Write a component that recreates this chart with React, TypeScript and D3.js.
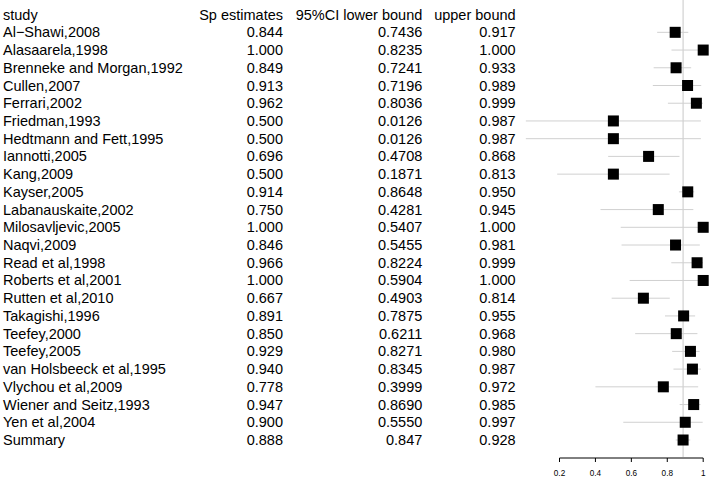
import React from "react";
import * as d3 from "d3";

const studies = [
  "Al\u2212Shawi,2008", "Alasaarela,1998", "Brenneke and Morgan,1992", "Cullen,2007", "Ferrari,2002",
  "Friedman,1993", "Hedtmann and Fett,1995", "Iannotti,2005", "Kang,2009", "Kayser,2005",
  "Labanauskaite,2002", "Milosavljevic,2005", "Naqvi,2009", "Read et al,1998", "Roberts et al,2001",
  "Rutten et al,2010", "Takagishi,1996", "Teefey,2000", "Teefey,2005", "van Holsbeeck et al,1995",
  "Vlychou et al,2009", "Wiener and Seitz,1993", "Yen et al,2004", "Summary",
];
const spEstimates = [0.844, 1.0, 0.849, 0.913, 0.962, 0.5, 0.5, 0.696, 0.5, 0.914, 0.75, 1.0, 0.846, 0.966, 1.0, 0.667, 0.891, 0.85, 0.929, 0.94, 0.778, 0.947, 0.9, 0.888];
const lowerBounds = [0.7436, 0.8235, 0.7241, 0.7196, 0.8036, 0.0126, 0.0126, 0.4708, 0.1871, 0.8648, 0.4281, 0.5407, 0.5455, 0.8224, 0.5904, 0.4903, 0.7875, 0.6211, 0.8271, 0.8345, 0.3999, 0.869, 0.555, 0.847];
const upperBounds = [0.917, 1.0, 0.933, 0.989, 0.999, 0.987, 0.987, 0.868, 0.813, 0.95, 0.945, 1.0, 0.981, 0.999, 1.0, 0.814, 0.955, 0.968, 0.98, 0.987, 0.972, 0.985, 0.997, 0.928];
const lowerLabels = ["0.7436", "0.8235", "0.7241", "0.7196", "0.8036", "0.0126", "0.0126", "0.4708", "0.1871", "0.8648", "0.4281", "0.5407", "0.5455", "0.8224", "0.5904", "0.4903", "0.7875", "0.6211", "0.8271", "0.8345", "0.3999", "0.8690", "0.5550", "0.847"];
const headers = ["study", "Sp estimates", "95%CI lower bound", "upper bound"];
const axisTicks = [0.2, 0.4, 0.6, 0.8, 1.0];

export default function App() {
  const W = 714, H = 482;
  const x = d3.scaleLinear().domain([0.2, 1.0]).range([559.5, 703.2]);
  const y = d3.scaleLinear().domain([-1, 23]).range([14.6, 440]);
  const fs = 14.5;
  const font = "'Liberation Sans', Arial, Helvetica, sans-serif";
  const summaryVal = spEstimates[spEstimates.length - 1];
  const sq = 11;
  const axisY = 458;
  const fmt3 = d3.format(".3f");
  return (
    <svg width={W} height={H} style={{ position: "absolute", left: 0, top: 0, background: "#fff" }} fontFamily={font}>
      <rect width={W} height={H} fill="#fff" />
      {/* reference line */}
      <line x1={x(summaryVal)} x2={x(summaryVal)} y1={0} y2={457} stroke="#c8c8c8" strokeWidth={1} />
      {/* headers */}
      <g fontSize={fs} fill="#000">
        <text x={3} y={y(-1)} dominantBaseline="central">{headers[0]}</text>
        <text x={283} y={y(-1)} dominantBaseline="central" textAnchor="end">{headers[1]}</text>
        <text x={422.3} y={y(-1)} dominantBaseline="central" textAnchor="end">{headers[2]}</text>
        <text x={515.6} y={y(-1)} dominantBaseline="central" textAnchor="end">{headers[3]}</text>
      </g>
      {studies.map((s, i) => (
        <g key={s} fontSize={fs} fill="#000">
          <text x={3} y={y(i)} dominantBaseline="central">{s}</text>
          <text x={283} y={y(i)} dominantBaseline="central" textAnchor="end">{fmt3(spEstimates[i])}</text>
          <text x={422.3} y={y(i)} dominantBaseline="central" textAnchor="end">{lowerLabels[i]}</text>
          <text x={515.6} y={y(i)} dominantBaseline="central" textAnchor="end">{fmt3(upperBounds[i])}</text>
          <line x1={x(lowerBounds[i])} x2={x(upperBounds[i])} y1={y(i)} y2={y(i)} stroke="#d0d0d0" strokeWidth={1} />
          <rect x={x(spEstimates[i]) - sq / 2} y={y(i) - sq / 2} width={sq} height={sq} fill="#000" />
        </g>
      ))}
      {/* axis */}
      <g>
        <line x1={x(0.2)} x2={x(1.0)} y1={axisY} y2={axisY} stroke="#000" strokeWidth={1} />
        {axisTicks.map((t) => (
          <g key={t}>
            <line x1={x(t)} x2={x(t)} y1={axisY} y2={axisY + 4} stroke="#000" strokeWidth={1} />
            <text x={x(t)} y={473.7} fontSize={8.2} textAnchor="middle" dominantBaseline="central" fill="#000">
              {d3.format("")(t)}
            </text>
          </g>
        ))}
      </g>
    </svg>
  );
}
